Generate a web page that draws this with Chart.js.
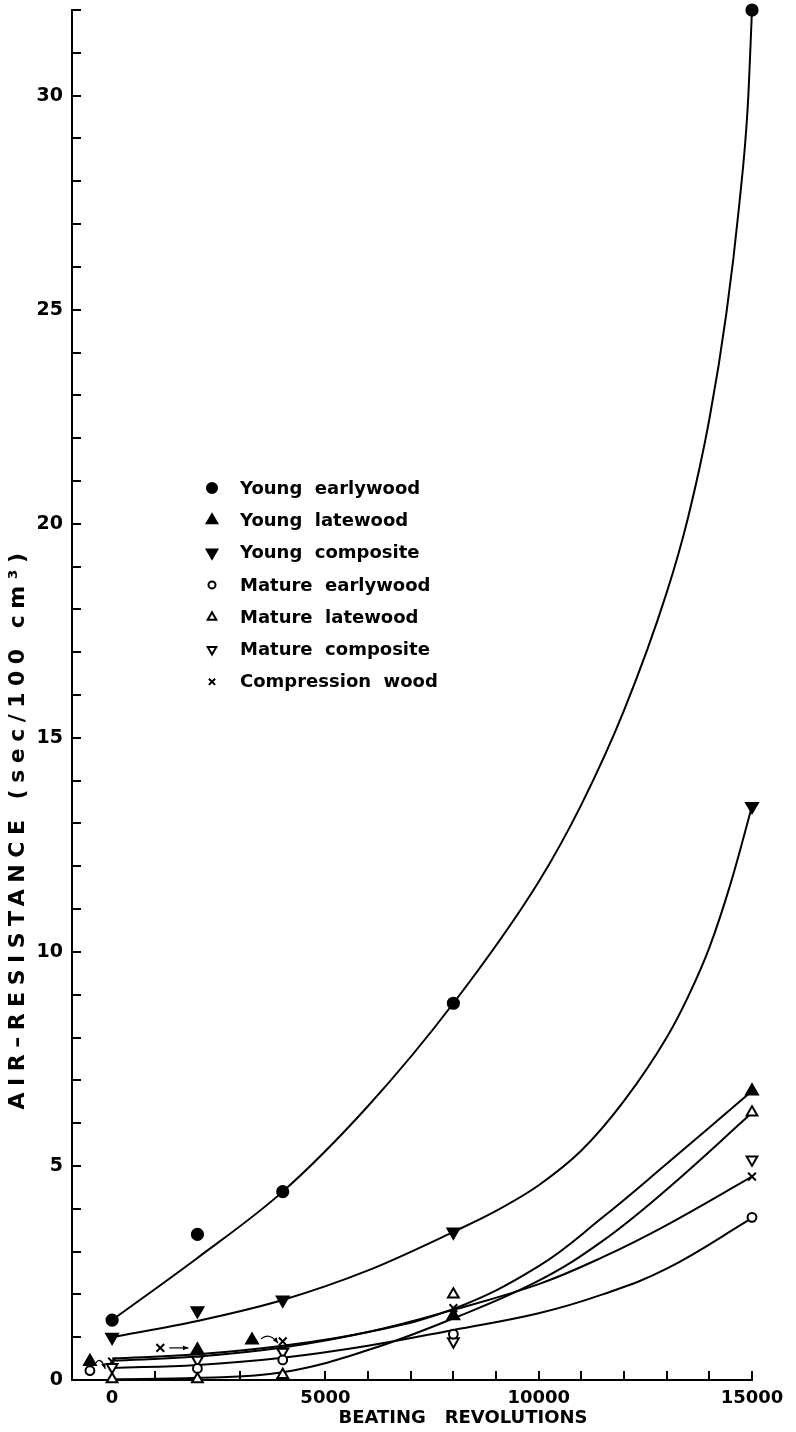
<!DOCTYPE html>
<html>
<head>
<meta charset="utf-8">
<title>Air-resistance and beating revolutions</title>
<script src="https://cdn.jsdelivr.net/npm/chart.js@4.4.1/dist/chart.umd.min.js"></script>
<style>
  html, body { margin: 0; padding: 0; background: #fff; }
  #wrap { width: 796px; height: 1432px; }
</style>
</head>
<body>
<div id="wrap"><canvas id="grafico" width="796" height="1432"></canvas></div>
<script>
"use strict";

/* ── DATA ───────────────────────────────── */
const revolutions = [0, 2000, 4000, 8000, 15000];

const youngEarly  = [1.40, 3.40, 4.40, 8.80, 32.0];
const youngLate   = [0.43, 0.70, 0.93, 1.50, 6.75];
const youngComp   = [1.00, 1.62, 1.87, 3.46, 13.4];
const matureEarly = [0.22, 0.27, 0.47, 1.07, 3.80];
const matureLate  = [0.02, 0.02, 0.12, 2.00, 6.25];
const matureComp  = [0.30, 0.47, 0.66, 0.90, 5.15];
const compression = [0.43, 0.75, 0.90, 1.68, 4.75];

// crowded columns: these markers sit beside their column (series, index, drawn x)
const moved = [
  ["youngLate",   0, -520],
  ["matureEarly", 0, -520],
  ["compression", 1, 1130],
  ["youngLate",   2, 3280]
];

// little arrows from a moved marker back to its column
const arrows = [
  { from: [-380, 0.40], to: [-160, 0.26], bend: true },
  { from: [1340, 0.75], to: [1790, 0.75], bend: false },
  { from: [3490, 0.96], to: [3890, 0.86], bend: true }
];

// fitted curves
const earlyCurveX = [0, 2000, 4000, 6000, 8000, 10000, 11000, 12000, 13000, 13500, 14000, 14400, 14700, 14900, 15000];
const earlyCurveY = [1.4, 2.85, 4.4, 6.4, 8.8, 11.64, 13.44, 15.64, 18.39, 20.14, 22.44, 24.92, 27.44, 29.74, 32.0];

const compCurveX = [0, 2000, 4000, 6000, 8000, 9000, 10000, 11000, 12000, 13000, 13500, 14000, 14500, 15000];
const compCurveY = [1.0, 1.38, 1.87, 2.56, 3.46, 3.95, 4.55, 5.36, 6.52, 8.0, 8.95, 10.1, 11.6, 13.4];

const lowCurveX        = [0, 2000, 4000, 6000, 8000, 10000, 11500, 13000, 15000];
const youngLateCurve   = [0.50, 0.60, 0.80, 1.12, 1.66, 2.66, 3.80, 5.05, 6.75];
const matureLateCurve  = [0.02, 0.05, 0.18, 0.70, 1.44, 2.32, 3.25, 4.45, 6.24];
const compressionCurve = [0.45, 0.55, 0.76, 1.12, 1.64, 2.24, 2.87, 3.62, 4.75];
const matureEarlyCurve = [0.28, 0.35, 0.52, 0.80, 1.17, 1.56, 2.00, 2.60, 3.78];

const xTickMarks = [0, 1000, 2000, 3000, 4000, 5000, 6000, 7000, 8000, 9000, 10000, 11000, 12000, 13000, 14000, 15000];
const yTickMarks = [0, 1, 2, 3, 4, 5, 6, 7, 8, 9, 10, 11, 12, 13, 14, 15, 16,
                    17, 18, 19, 20, 21, 22, 23, 24, 25, 26, 27, 28, 29, 30, 31, 32];
const xLabels = [0, 5000, 10000, 15000];
const yLabels = [0, 5, 10, 15, 20, 25, 30];

/* ── SERIES ─────────────────────────────── */
const series = {
  youngEarly:  { label: "Young  earlywood",  values: youngEarly,  style: "circle",   fill: true,  r: 5.6 },
  youngLate:   { label: "Young  latewood",   values: youngLate,   style: "triangle", fill: true,  r: 6.8 },
  youngComp:   { label: "Young  composite",  values: youngComp,   style: "triangle", fill: true,  r: 6.8, rot: 180 },
  matureEarly: { label: "Mature  earlywood", values: matureEarly, style: "circle",   fill: false, r: 4.4 },
  matureLate:  { label: "Mature  latewood",  values: matureLate,  style: "triangle", fill: false, r: 6.2 },
  matureComp:  { label: "Mature  composite", values: matureComp,  style: "triangle", fill: false, r: 6.2, rot: 180 },
  compression: { label: "Compression  wood", values: compression, style: "crossRot", fill: false, r: 5.5 }
};

function pontos(chave) {
  const s = series[chave];
  return s.values.map((v, i) => {
    const m = moved.find(e => e[0] === chave && e[1] === i);
    return { x: m ? m[2] : revolutions[i], y: v };
  });
}

function curva(xs, ys) {
  return xs.map((x, i) => ({ x, y: ys[i] }));
}

const markerSets = Object.keys(series).map(k => {
  const s = series[k];
  return {
    label: s.label,
    data: pontos(k),
    showLine: false,
    pointStyle: s.style,
    pointRadius: s.r,
    pointRotation: s.rot || 0,
    pointBorderWidth: 2,
    pointBorderColor: "#000",
    pointBackgroundColor: s.fill ? "#000" : "#fff",
    clip: false
  };
});

const curveSets = [
  [curva(earlyCurveX, earlyCurveY), "monotone"],
  [curva(compCurveX, compCurveY), "monotone"],
  [curva(lowCurveX, youngLateCurve), "default"],
  [curva(lowCurveX, matureLateCurve), "default"],
  [curva(lowCurveX, compressionCurve), "default"],
  [curva(lowCurveX, matureEarlyCurve), "default"]
].map(([d, modo]) => ({
  data: d,
  showLine: true,
  borderColor: "#000",
  borderWidth: 2,
  pointRadius: 0,
  tension: 0.4,
  cubicInterpolationMode: modo,
  clip: false
}));

/* ── PLUGINS ────────────────────────────── */
const FONTE = "'DejaVu Sans', sans-serif";

// inward tick marks on both axes
const marcas = {
  id: "marcas",
  beforeDatasetsDraw(chart) {
    const { ctx, chartArea: a, scales: { x, y } } = chart;
    ctx.save();
    ctx.strokeStyle = "#000";
    ctx.lineWidth = 2;
    ctx.beginPath();
    yTickMarks.forEach(v => {
      const py = Math.round(y.getPixelForValue(v));
      ctx.moveTo(a.left, py);
      ctx.lineTo(a.left + 9, py);
    });
    xTickMarks.forEach(v => {
      const px = Math.round(x.getPixelForValue(v));
      ctx.moveTo(px, a.bottom);
      ctx.lineTo(px, a.bottom - 9);
    });
    ctx.stroke();
    ctx.restore();
  }
};

function seta(ctx, x0, y0, x1, y1, bend) {
  const cx = (x0 + x1) / 2, cy = Math.min(y0, y1) - (bend ? 7 : 0);
  ctx.beginPath();
  ctx.moveTo(x0, y0);
  ctx.quadraticCurveTo(cx, cy, x1, y1);
  ctx.stroke();
  const ang = Math.atan2(y1 - cy, x1 - cx);
  ctx.beginPath();
  ctx.moveTo(x1, y1);
  ctx.lineTo(x1 - 6 * Math.cos(ang - 0.4), y1 - 6 * Math.sin(ang - 0.4));
  ctx.lineTo(x1 - 6 * Math.cos(ang + 0.4), y1 - 6 * Math.sin(ang + 0.4));
  ctx.closePath();
  ctx.fill();
}

const extras = {
  id: "extras",
  afterDraw(chart) {
    const { ctx, chartArea: a, scales: { x, y } } = chart;
    ctx.save();
    ctx.strokeStyle = "#000";
    ctx.fillStyle = "#000";
    ctx.lineWidth = 1.2;

    arrows.forEach(s => seta(ctx,
      x.getPixelForValue(s.from[0]), y.getPixelForValue(s.from[1]),
      x.getPixelForValue(s.to[0]),   y.getPixelForValue(s.to[1]), s.bend));

    // legend
    ctx.font = "bold 18px " + FONTE;
    ctx.textBaseline = "middle";
    ctx.textAlign = "left";
    Object.keys(series).forEach((k, i) => {
      const s = series[k];
      const mx = a.left + 140, my = a.top + 478 + i * 32.3;
      ctx.fillStyle = s.fill ? "#000" : "#fff";
      ctx.lineWidth = 2;
      Chart.helpers.drawPoint(ctx, {
        pointStyle: s.style,
        radius: s.r * (s.fill ? 0.9 : 0.8),
        rotation: s.rot || 0,
        borderWidth: 2
      }, mx, my);
      ctx.fillStyle = "#000";
      ctx.fillText(s.label, a.left + 168, my + 1);
    });

    // axis titles
    ctx.font = "bold 18px " + FONTE;
    ctx.textAlign = "center";
    ctx.fillText("BEATING   REVOLUTIONS", a.left + 391, a.bottom + 38);

    ctx.translate(a.left - 54, 828);
    ctx.rotate(-Math.PI / 2);
    ctx.font = "bold 22px " + FONTE;
    ctx.letterSpacing = "6.5px";
    ctx.fillText("AIR–RESISTANCE (sec/100 cm³)", 0, 0);
    ctx.restore();
  }
};

/* ── CHART ──────────────────────────────── */
Chart.defaults.font.family = FONTE;
Chart.defaults.color = "#000";

new Chart(document.getElementById("grafico").getContext("2d"), {
  type: "scatter",
  data: { datasets: markerSets.concat(curveSets) },
  options: {
    responsive: false,
    animation: false,
    layout: { padding: { left: 0, top: 10, right: 44, bottom: 0 } },
    plugins: { legend: { display: false }, tooltip: { enabled: false } },
    scales: {
      x: {
        type: "linear",
        min: -940,
        max: 15000,
        afterFit: s => { s.height = 52; s.paddingLeft = 0; s.paddingRight = 0; },
        afterBuildTicks: s => { s.ticks = xLabels.map(v => ({ value: v })); },
        grid: { display: false, drawTicks: false },
        border: { display: true, color: "#000", width: 2 },
        ticks: {
          autoSkip: false,
          maxRotation: 0,
          padding: 8,
          font: { size: 18, weight: "bold" },
          callback: v => String(v)
        }
      },
      y: {
        type: "linear",
        min: 0,
        max: 32,
        afterFit: s => { s.width = 72; s.paddingTop = 0; s.paddingBottom = 0; },
        afterBuildTicks: s => { s.ticks = yLabels.map(v => ({ value: v })); },
        grid: { display: false, drawTicks: false },
        border: { display: true, color: "#000", width: 2 },
        ticks: {
          autoSkip: false,
          padding: 9,
          font: { size: 19, weight: "bold" },
          callback: v => String(v)
        }
      }
    }
  },
  plugins: [marcas, extras]
});
</script>
</body>
</html>
